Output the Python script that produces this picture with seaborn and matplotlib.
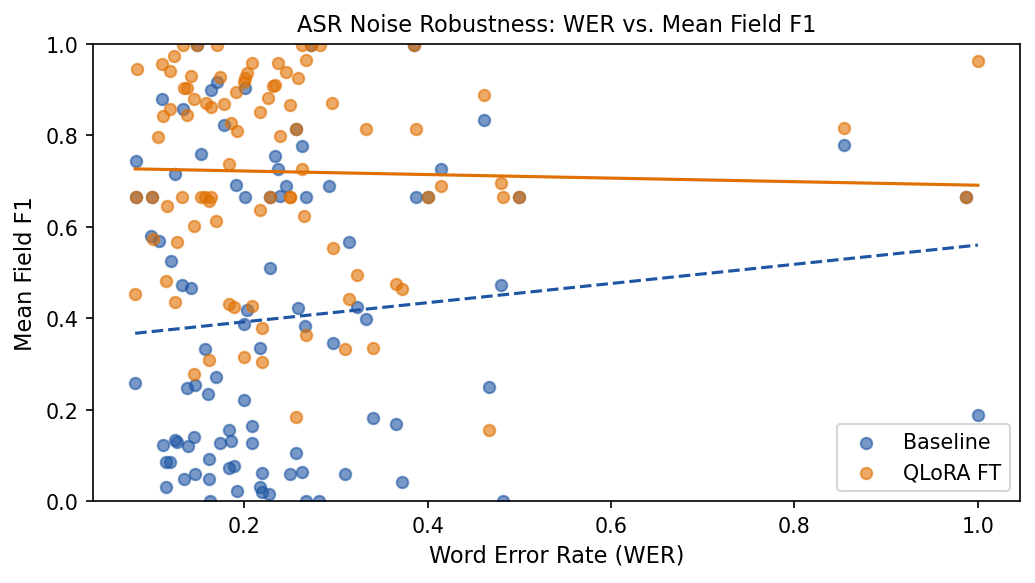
import seaborn as sns
import numpy as np
import matplotlib
matplotlib.use("Agg")
import matplotlib.pyplot as plt

# WER / mean field F1 per sample
base_wer = [0.082, 0.082, 0.081, 0.099, 0.098, 0.107, 0.110, 0.124, 0.120, 0.133,
            0.111, 0.124, 0.127, 0.115, 0.119, 0.115, 0.134, 0.132, 0.142, 0.137,
            0.146, 0.139, 0.145, 0.148, 0.164, 0.170, 0.201, 0.178, 0.153, 0.233,
            0.237, 0.263, 0.191, 0.245, 0.201, 0.239, 0.267, 0.228, 0.228, 0.203,
            0.200, 0.259, 0.266, 0.157, 0.217, 0.169, 0.160, 0.200, 0.208, 0.183,
            0.173, 0.185, 0.208, 0.162, 0.183, 0.189, 0.256, 0.146, 0.161, 0.219,
            0.250, 0.263, 0.192, 0.217, 0.219, 0.227, 0.163, 0.267, 0.282, 0.273,
            0.256, 0.292, 0.297, 0.314, 0.323, 0.333, 0.340, 0.365, 0.310, 0.372,
            0.385, 0.387, 0.400, 0.414, 0.461, 0.467, 0.480, 0.482, 0.500, 0.854,
            0.987, 1.000]
base_f1 = [0.744, 0.665, 0.258, 0.665, 0.580, 0.569, 0.880, 0.716, 0.525, 0.858,
           0.122, 0.134, 0.129, 0.085, 0.085, 0.031, 0.048, 0.473, 0.466, 0.247,
           0.254, 0.120, 0.140, 0.998, 0.900, 0.917, 0.904, 0.823, 0.759, 0.755,
           0.727, 0.777, 0.691, 0.689, 0.665, 0.667, 0.665, 0.665, 0.510, 0.418,
           0.387, 0.422, 0.383, 0.333, 0.335, 0.271, 0.234, 0.221, 0.164, 0.155,
           0.127, 0.131, 0.127, 0.092, 0.072, 0.077, 0.105, 0.059, 0.048, 0.061,
           0.059, 0.063, 0.022, 0.031, 0.020, 0.015, 0.000, 0.000, 0.000, 0.998,
           0.814, 0.689, 0.346, 0.567, 0.425, 0.398, 0.182, 0.168, 0.059, 0.042,
           0.998, 0.665, 0.665, 0.727, 0.834, 0.249, 0.473, 0.000, 0.665, 0.779,
           0.665, 0.188]

qlora_wer = [0.083, 0.081, 0.082, 0.099, 0.100, 0.110, 0.119, 0.123, 0.133, 0.134,
             0.138, 0.119, 0.111, 0.106, 0.116, 0.132, 0.127, 0.115, 0.124, 0.148,
             0.170, 0.263, 0.273, 0.283, 0.208, 0.237, 0.267, 0.142, 0.173, 0.203,
             0.201, 0.200, 0.245, 0.259, 0.231, 0.234, 0.191, 0.226, 0.145, 0.158,
             0.164, 0.178, 0.250, 0.138, 0.217, 0.186, 0.192, 0.239, 0.256, 0.183,
             0.263, 0.153, 0.157, 0.164, 0.161, 0.217, 0.228, 0.250, 0.250, 0.265,
             0.145, 0.169, 0.183, 0.189, 0.208, 0.219, 0.267, 0.162, 0.200, 0.219,
             0.145, 0.256, 0.385, 0.296, 0.333, 0.387, 0.461, 0.414, 0.400, 0.480,
             0.482, 0.500, 0.297, 0.323, 0.365, 0.372, 0.314, 0.310, 0.340, 0.467,
             1.000, 0.854, 0.987]
qlora_f1 = [0.945, 0.453, 0.665, 0.665, 0.573, 0.956, 0.941, 0.974, 0.998, 0.904,
            0.904, 0.858, 0.842, 0.797, 0.645, 0.665, 0.567, 0.481, 0.436, 0.998,
            0.998, 0.998, 0.998, 0.998, 0.958, 0.958, 0.965, 0.930, 0.928, 0.937,
            0.926, 0.917, 0.939, 0.926, 0.908, 0.910, 0.895, 0.882, 0.880, 0.871,
            0.862, 0.869, 0.866, 0.845, 0.851, 0.827, 0.810, 0.799, 0.814, 0.737,
            0.726, 0.665, 0.665, 0.665, 0.656, 0.637, 0.665, 0.665, 0.665, 0.624,
            0.602, 0.613, 0.431, 0.425, 0.427, 0.379, 0.363, 0.309, 0.315, 0.304,
            0.278, 0.184, 0.998, 0.871, 0.814, 0.814, 0.888, 0.689, 0.665, 0.696,
            0.665, 0.665, 0.553, 0.495, 0.475, 0.464, 0.442, 0.333, 0.335, 0.155,
            0.963, 0.816, 0.665]

base_color = "#1f56a3"
qlora_color = "#e07000"

plt.rcParams.update({
    "xtick.labelsize": 9.9,
    "ytick.labelsize": 9.9,
    "axes.labelsize": 10.8,
    "axes.titlesize": 10.8,
    "legend.fontsize": 9.9,
})

fig, ax = plt.subplots(figsize=(6.9, 3.893), dpi=150)
fig.subplots_adjust(left=0.0899, right=0.9855, top=0.923, bottom=0.1404)

# scatter points
sns.scatterplot(x=base_wer, y=base_f1, ax=ax, color=base_color, alpha=0.6,
                s=30, edgecolor=base_color, linewidth=1, label="Baseline")
sns.scatterplot(x=qlora_wer, y=qlora_f1, ax=ax, color=qlora_color, alpha=0.6,
                s=30, edgecolor=qlora_color, linewidth=1, label="QLoRA FT")

# linear fits
sns.regplot(x=np.array(base_wer), y=np.array(base_f1), ax=ax, scatter=False, ci=None,
            color=base_color, line_kws={"linestyle": "--", "linewidth": 1.5})
sns.regplot(x=np.array(qlora_wer), y=np.array(qlora_f1), ax=ax, scatter=False, ci=None,
            color=qlora_color, line_kws={"linewidth": 1.5})

ax.set_ylim(0, 1)
ax.set_xlabel("Word Error Rate (WER)")
ax.set_ylabel("Mean Field F1")
ax.set_title("ASR Noise Robustness: WER vs. Mean Field F1")
ax.legend(loc="lower right")

plt.savefig("out.png", dpi=150)
